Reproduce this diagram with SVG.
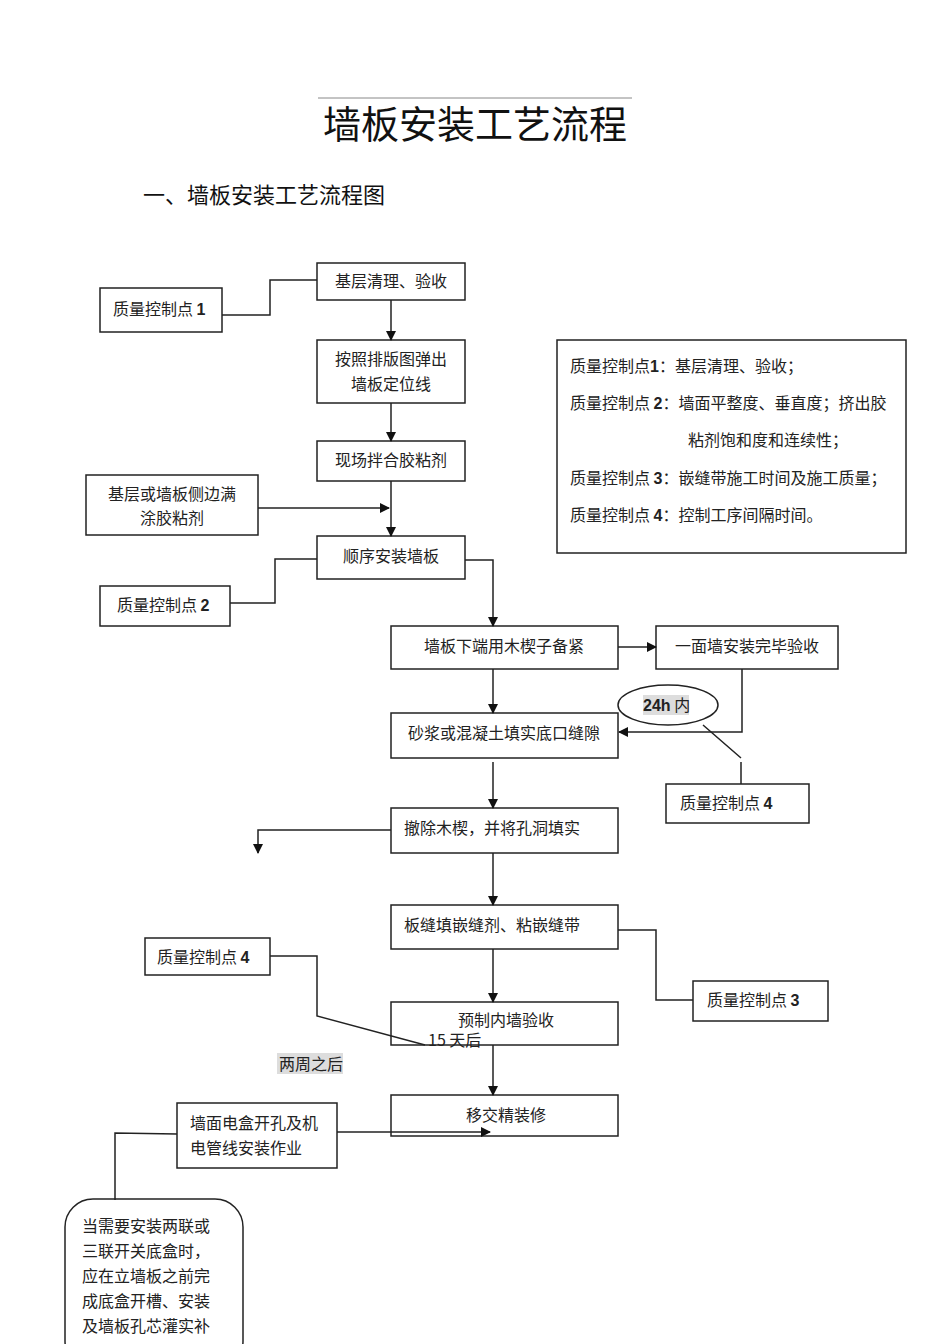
<svg xmlns="http://www.w3.org/2000/svg" width="950" height="1344" viewBox="0 0 950 1344">
<defs>
<style>
.b{fill:#fff;stroke:#222;stroke-width:1.5}
.t{font-family:"Noto Sans CJK SC",sans-serif;font-size:16px;fill:#222}
.c{text-anchor:middle}
.n{font-weight:bold;font-family:"Liberation Sans",sans-serif}
.l{fill:none;stroke:#222;stroke-width:1.5}
</style>
<marker id="a" markerWidth="10" markerHeight="10" refX="9" refY="5" orient="auto" markerUnits="userSpaceOnUse"><path d="M0,0 L10,5 L0,10 z" fill="#111"/></marker>
</defs>
<rect width="950" height="1344" fill="#fff"/>
<line x1="318" y1="98" x2="632" y2="98" stroke="#888" stroke-width="1"/>
<text x="475" y="138" class="c" font-family="Noto Sans CJK SC,sans-serif" font-size="38" fill="#111">墙板安装工艺流程</text>
<text x="143" y="203" font-family="Noto Sans CJK SC,sans-serif" font-size="22" fill="#111">一、墙板安装工艺流程图</text>

<g id="n1"><rect class="b" x="317" y="263" width="148" height="37"/><text class="t c" x="391" y="287">基层清理、验收</text></g>
<g id="qc1"><rect class="b" x="100" y="288" width="122" height="44"/><text class="t" x="113" y="315">质量控制点 <tspan class="n">1</tspan></text></g>
<g id="n2"><rect class="b" x="317" y="340" width="148" height="63"/><text class="t c" x="391" y="365">按照排版图弹出</text><text class="t c" x="391" y="390">墙板定位线</text></g>
<g id="n3"><rect class="b" x="317" y="441" width="148" height="40"/><text class="t c" x="391" y="466">现场拌合胶粘剂</text></g>
<g id="side1"><rect class="b" x="86" y="475" width="172" height="60"/><text class="t c" x="172" y="500">基层或墙板侧边满</text><text class="t c" x="172" y="524">涂胶粘剂</text></g>
<g id="n4"><rect class="b" x="317" y="536" width="148" height="43"/><text class="t c" x="391" y="562">顺序安装墙板</text></g>
<g id="qc2"><rect class="b" x="100" y="586" width="130" height="40"/><text class="t" x="117" y="611">质量控制点 <tspan class="n">2</tspan></text></g>
<g id="n5"><rect class="b" x="391" y="626" width="227" height="43"/><text class="t c" x="504" y="652">墙板下端用木楔子备紧</text></g>
<g id="n6"><rect class="b" x="656" y="626" width="182" height="43"/><text class="t c" x="747" y="652">一面墙安装完毕验收</text></g>
<g id="e24"><ellipse cx="668" cy="705" rx="50" ry="20" fill="#fff" stroke="#222" stroke-width="1.5"/><rect x="643" y="695" width="46" height="20" fill="#ddd"/><text class="t" x="643" y="711"><tspan class="n">24h</tspan> 内</text></g>
<g id="n7"><rect class="b" x="391" y="713" width="227" height="45"/><text class="t c" x="504" y="739">砂浆或混凝土填实底口缝隙</text></g>
<g id="qc4a"><rect class="b" x="666" y="784" width="143" height="39"/><text class="t" x="680" y="809">质量控制点 <tspan class="n">4</tspan></text></g>
<g id="n8"><rect class="b" x="391" y="808" width="227" height="45"/><text class="t" x="404" y="834">撤除木楔，并将孔洞填实</text></g>
<g id="n9"><rect class="b" x="391" y="905" width="227" height="44"/><text class="t" x="404" y="931">板缝填嵌缝剂、粘嵌缝带</text></g>
<g id="qc3"><rect class="b" x="693" y="981" width="135" height="40"/><text class="t" x="707" y="1006">质量控制点 <tspan class="n">3</tspan></text></g>
<g id="qc4b"><rect class="b" x="145" y="938" width="125" height="37"/><text class="t" x="157" y="963">质量控制点 <tspan class="n">4</tspan></text></g>
<g id="n10"><rect class="b" x="391" y="1002" width="227" height="43"/><text class="t c" x="506" y="1026">预制内墙验收</text><text class="t" x="428" y="1046" font-size="14">15 天后</text></g>
<g id="lbl2w"><rect x="277" y="1053" width="66" height="21" fill="#ddd"/><text class="t" x="279" y="1070" font-size="15">两周之后</text></g>
<g id="n11"><rect class="b" x="391" y="1095" width="227" height="41"/><text class="t c" x="506" y="1121">移交精装修</text></g>
<g id="side2"><rect class="b" x="177" y="1103" width="160" height="65"/><text class="t" x="190" y="1129">墙面电盒开孔及机</text><text class="t" x="190" y="1154">电管线安装作业</text></g>
<g id="note"><rect class="b" x="65" y="1199" width="178" height="170" rx="28"/>
<text class="t" x="82" y="1232">当需要安装两联或</text><text class="t" x="82" y="1257">三联开关底盒时，</text><text class="t" x="82" y="1282">应在立墙板之前完</text><text class="t" x="82" y="1307">成底盒开槽、安装</text><text class="t" x="82" y="1332">及墙板孔芯灌实补</text></g>
<g id="legend"><rect class="b" x="557" y="340" width="349" height="213"/>
<text class="t" x="570" y="372">质量控制点<tspan class="n">1</tspan>：基层清理、验收；</text>
<text class="t" x="570" y="409">质量控制点 <tspan class="n">2</tspan>：墙面平整度、垂直度；挤出胶</text>
<text class="t" x="688" y="446">粘剂饱和度和连续性；</text>
<text class="t" x="570" y="484">质量控制点 <tspan class="n">3</tspan>：嵌缝带施工时间及施工质量；</text>
<text class="t" x="570" y="521">质量控制点 <tspan class="n">4</tspan>：控制工序间隔时间。</text></g>

<g id="connectors">
<path class="l" d="M391,300 V340" marker-end="url(#a)"/>
<path class="l" d="M391,403 V441" marker-end="url(#a)"/>
<path class="l" d="M391,481 V536" marker-end="url(#a)"/>
<path class="l" d="M258,508 H389" marker-end="url(#a)"/>
<path class="l" d="M222,315 H270 V280 H317"/>
<path class="l" d="M230,603 H275 V559 H317"/>
<path class="l" d="M465,560 H493 V626" marker-end="url(#a)"/>
<path class="l" d="M618,647 H656" marker-end="url(#a)"/>
<path class="l" d="M493,669 V713" marker-end="url(#a)"/>
<path class="l" d="M742,669 V732 H619" marker-end="url(#a)"/>
<path class="l" d="M703,725 L741,758 M741,762 V784"/>
<path class="l" d="M493,762 V808" marker-end="url(#a)"/>
<path class="l" d="M391,830 H258 V853" marker-end="url(#a)"/>
<path class="l" d="M493,853 V905" marker-end="url(#a)"/>
<path class="l" d="M618,930 H656 V1000 H693"/>
<path class="l" d="M493,949 V1002" marker-end="url(#a)"/>
<path class="l" d="M270,956 H317 V1016 L425,1045"/>
<path class="l" d="M493,1045 V1095" marker-end="url(#a)"/>
<path class="l" d="M337,1132 H490" marker-end="url(#a)"/>
<path class="l" d="M177,1134 L115,1133 V1200"/>
</g>
</svg>
